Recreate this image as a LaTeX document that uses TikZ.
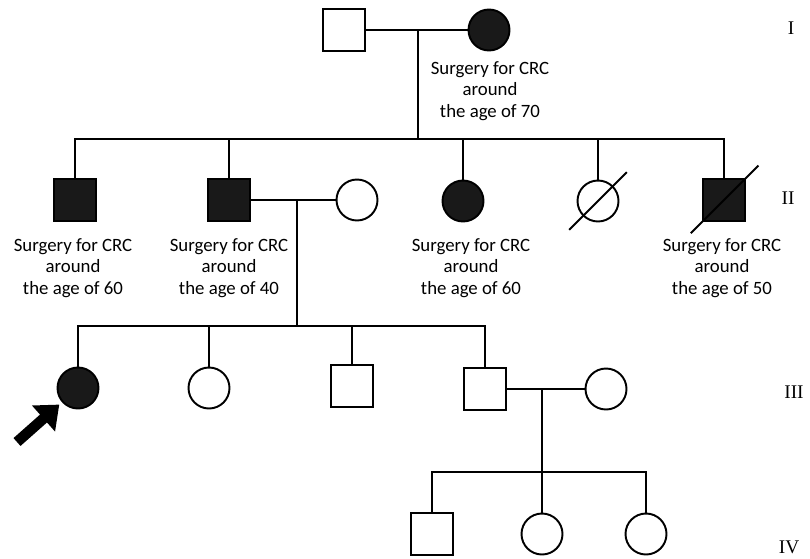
\documentclass[tikz,border=0pt]{standalone}
\usepackage{fontspec}
\setmainfont{Carlito}
\newfontfamily\genfont{Liberation Serif}
\usetikzlibrary{arrows.meta}

\tikzset{
	male/.style={draw, line width=1.1pt, minimum size=0.84cm, inner sep=0pt},
	female/.style={draw, circle, line width=1.1pt, minimum size=0.82cm, inner sep=0pt},
	affected/.style={fill=black!90},
	note/.style={align=center, font=\fontsize{10.7}{12.2}\selectfont},
	gen/.style={font=\genfont\fontsize{11}{13}\selectfont},
	link/.style={line width=1.1pt},
}

\begin{document}
\begin{tikzpicture}[x=0.02cm, y=-0.02cm]
		\useasboundingbox (0,0) rectangle (810,558);
		%% Generation I
		\node[male] (i1) at (344,30) {};
		\node[female, affected] (i2) at (489,30) {};
		\node[note] (t0) at (490,91) {Surgery for CRC\\around\\the age of 70};
		%% Generation II
		\node[male, affected] (ii1) at (75,200) {};
		\node[male, affected] (ii2) at (229,200) {};
		\node[female] (ii3) at (357,200) {};
		\node[female, affected] (ii4) at (463,201) {};
		\node[female] (ii5) at (598,201) {};
		\node[male, affected] (ii6) at (724,200) {};
		\node[note] (t1) at (73,268) {Surgery for CRC\\around\\the age of 60};
		\node[note] (t2) at (229,268) {Surgery for CRC\\around\\the age of 40};
		\node[note] (t4) at (471,268) {Surgery for CRC\\around\\the age of 60};
		\node[note] (t6) at (722,268) {Surgery for CRC\\around\\the age of 50};
		%% Generation III
		\node[female, affected] (iii1) at (78,388) {};
		\node[female] (iii2) at (209,388) {};
		\node[male] (iii3) at (352,386) {};
		\node[male] (iii4) at (485,389) {};
		\node[female] (iii5) at (606,389) {};
		%% Generation IV
		\node[male] (iv1) at (432,534) {};
		\node[female] (iv2) at (542,534) {};
		\node[female] (iv3) at (646,534) {};
		%% generation numbers
		\node[gen] (g1) at (791,28) {I};
		\node[gen] (g2) at (788,198) {II};
		\node[gen] (g3) at (794,392) {III};
		\node[gen] (g4) at (789,547) {IV};
		%% lines
		\coordinate (mI) at (418,30);
		\coordinate (sibII) at (418,139);
		\draw[link] (i1) -- (i2);
		\draw[link] (mI) -- (sibII);
		\draw[link] (ii1.north) |- (sibII) -| (ii6.north);
		\foreach \c in {ii2, ii4, ii5}
			\draw[link] (\c.north) -- (\c.north |- sibII);
		\coordinate (mII) at (297,200);
		\coordinate (sibIII) at (297,326);
		\draw[link] (ii2) -- (ii3);
		\draw[link] (mII) -- (sibIII);
		\draw[link] (iii1.north) |- (sibIII) -| (iii4.north);
		\foreach \c in {iii2, iii3}
			\draw[link] (\c.north) -- (\c.north |- sibIII);
		\coordinate (mIII) at (542,389);
		\coordinate (sibIV) at (542,472);
		\draw[link] (iii4) -- (iii5);
		\draw[link] (mIII) -- (sibIV);
		\draw[link] (iv1.north) |- (sibIV) -| (iv3.north);
		\draw[link] (iv2.north) -- (iv2.north |- sibIV);
		%% deceased
		\draw[link, shorten <=-11pt, shorten >=-11pt] (ii5.225) -- (ii5.45);
		\draw[link, shorten <=-9pt, shorten >=-10pt] (ii6.225) -- (ii6.45);
		%% proband
		\coordinate (ptr) at (17,442);
		\draw[line width=6pt, -{Triangle[length=12pt, width=19pt]}, shorten >=2pt] (ptr) -- (iii1);
	\end{tikzpicture}
\end{document}
